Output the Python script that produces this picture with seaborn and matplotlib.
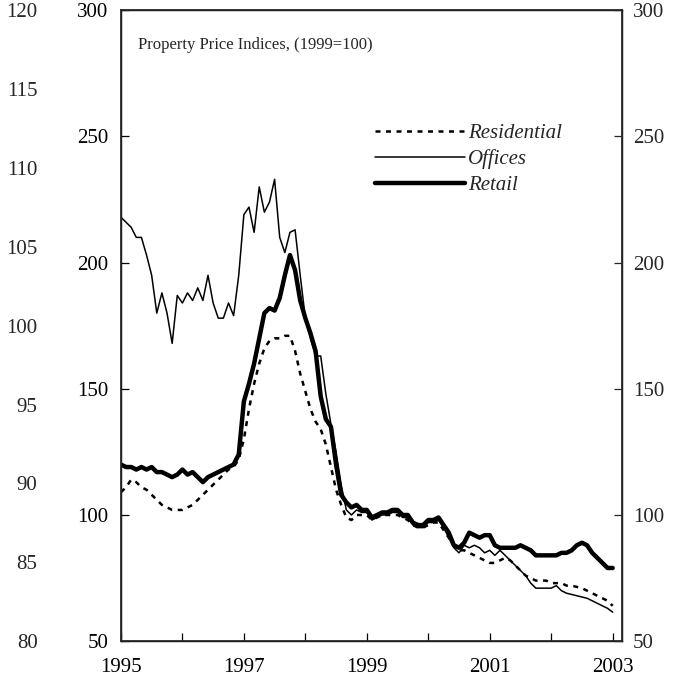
import numpy as np
import pandas as pd
import seaborn as sns
import matplotlib.pyplot as plt
from matplotlib.ticker import MultipleLocator

# monthly observations, Jan 1995 .. Jan 2003
months = 1995 + np.arange(97) / 12

residential = [109, 111, 114, 113, 111, 110, 108, 106, 104, 103, 102, 102,
               102, 103, 104, 106, 108, 110, 112, 114, 116, 118, 119, 122,
               130, 142, 152, 160, 166, 169, 170, 170, 171, 171, 165, 156,
               149, 142, 137, 134, 128, 119, 110, 104, 99, 98, 100, 100,
               100, 98, 99, 100, 100, 100, 100, 99, 98, 96, 95, 95,
               96, 97, 97, 94, 91, 88, 86, 86, 85, 84, 83, 82,
               81, 81, 82, 83, 82, 80, 78, 76, 75, 74, 74, 74,
               73, 73, 73, 72, 72, 71.5, 71, 70, 69, 68, 67, 66,
               64]

offices = [218, 216, 214, 210, 210, 203, 195, 180, 188, 180, 168, 187,
           184, 188, 185, 190, 185, 195, 184, 178, 178, 184, 179, 195,
           219, 222, 212, 230, 220, 224, 233, 210, 204, 212, 213, 195,
           178, 170, 163, 163, 148, 136, 125, 112, 102, 100, 102, 101,
           101, 98, 99, 100, 100, 101, 101, 99, 99, 96, 95, 95,
           97, 97, 98, 95, 91, 87, 85, 88, 87, 88, 87, 85,
           86, 84, 86, 84, 82, 80, 78, 76, 73, 71, 71, 71,
           71, 72, 70, 69, 68.5, 68, 67.5, 67, 66, 65, 64, 63,
           61.5]

retail = [120, 119, 119, 118, 119, 118, 119, 117, 117, 116, 115, 116,
          118, 116, 117, 115, 113, 115, 116, 117, 118, 119, 120, 124,
          145, 152, 160, 170, 180, 182, 181, 186, 195, 203, 197, 185,
          178, 172, 165, 147, 138, 135, 120, 108, 105, 103, 104, 102,
          102, 99, 100, 101, 101, 102, 102, 100, 100, 97, 96, 96,
          98, 98, 99, 96, 93, 88, 87, 89, 93, 92, 91, 92,
          92, 88, 87, 87, 87, 87, 88, 87, 86, 84, 84, 84,
          84, 84, 85, 85, 86, 88, 89, 88, 85, 83, 81, 79,
          79]

left_ticks = [50, 100, 150, 200, 250, 300]
outer_ticks = [80, 85, 90, 95, 100, 105, 110, 115, 120]
year_labels = [1995, 1997, 1999, 2001, 2003]

df = pd.DataFrame({'date': months, 'Residential': residential,
                   'Offices': offices, 'Retail': retail})

sns.set_theme(style='ticks')
plt.rcParams['font.family'] = ['Liberation Serif', 'DejaVu Serif']

fig = plt.figure(figsize=(6.91, 6.85), dpi=100)
ax = fig.add_axes([0.175, 0.064, 0.725, 0.921])

sns.lineplot(data=df, x='date', y='Residential', ax=ax, color='black',
             linewidth=1.8, label='Residential')
sns.lineplot(data=df, x='date', y='Offices', ax=ax, color='black',
             linewidth=1.1, label='Offices')
sns.lineplot(data=df, x='date', y='Retail', ax=ax, color='black',
             linewidth=3.2, label='Retail')
ax.lines[0].set_linestyle((0, (2, 2.2)))

ax.set_xlim(1995, 2003.15)
ax.set_ylim(50, 300)
ax.set_xticks(year_labels)
ax.set_xticklabels([str(y) for y in year_labels])
ax.xaxis.set_minor_locator(MultipleLocator(1))
ax.set_yticks(left_ticks)
ax.set_xlabel('')
ax.set_ylabel('')
for s in ax.spines.values():
    s.set_visible(True)
    s.set_linewidth(1.0)
    s.set_color('black')
ax.tick_params(axis='both', which='both', direction='in', length=6,
               width=0.9, colors='black', labelsize=15)
ax.tick_params(axis='y', pad=9)
ax.tick_params(axis='x', pad=12)

# right-hand axis, same scale
axr = ax.twinx()
axr.set_ylim(50, 300)
axr.set_yticks(left_ticks)
axr.tick_params(axis='y', direction='in', length=6, width=0.9,
                labelsize=15, pad=8)

# outer left axis (80-120), no spine
axo = ax.twinx()
axo.set_ylim(80, 120)
axo.set_yticks(outer_ticks)
axo.yaxis.set_ticks_position('left')
axo.yaxis.set_label_position('left')
axo.spines['left'].set_position(('outward', 56))
for s in axo.spines.values():
    s.set_visible(False)
axo.tick_params(axis='y', length=0, labelsize=15, pad=4)

ax.text(0.035, 0.945, 'Property Price Indices, (1999=100)',
        transform=ax.transAxes, fontsize=12, ha='left', va='center')

leg = ax.legend(loc='upper left', bbox_to_anchor=(0.47, 0.85), frameon=False,
                handlelength=4.3, handletextpad=0.15, labelspacing=0.3,
                prop={'family': 'Liberation Serif', 'style': 'italic',
                      'size': 15})

fig.savefig('out.png', dpi=100)
